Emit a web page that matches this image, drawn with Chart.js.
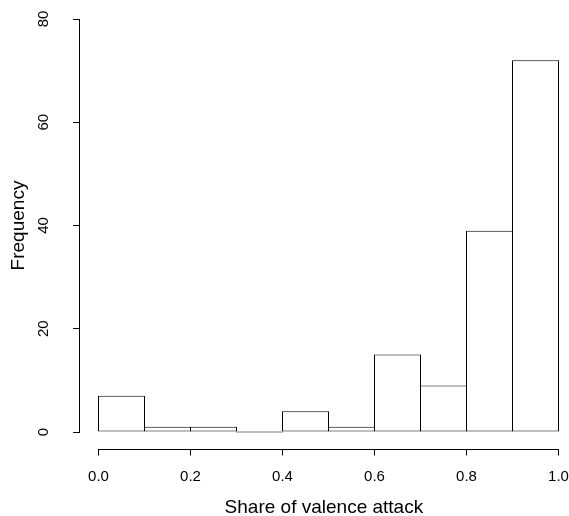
<!DOCTYPE html>
<html lang="en">
<head>
  <meta charset="UTF-8" />
  <title>Share of valence attack</title>
  <script src="https://cdn.jsdelivr.net/npm/chart.js"></script>
  <style>
    body {
      margin: 0;
      padding: 0;
      background: #fff;
    }
    canvas {
      display: block;
    }
  </style>
</head>
<body>
  <canvas id="hist" width="569" height="516"></canvas>
  <script>
    // histogram bins (share of valence attack) and counts
    const binStarts = [0.0, 0.1, 0.2, 0.3, 0.4, 0.5, 0.6, 0.7, 0.8, 0.9];
    const binEnds   = [0.1, 0.2, 0.3, 0.4, 0.5, 0.6, 0.7, 0.8, 0.9, 1.0];
    const counts    = [7, 1, 1, 0, 4, 1, 15, 9, 39, 72];

    const xTickValues = [0, 0.2, 0.4, 0.6, 0.8, 1.0];
    const xTickLabels = ['0.0', '0.2', '0.4', '0.6', '0.8', '1.0'];
    const yTickValues = [0, 20, 40, 60, 80];
    const yTickLabels = ['0', '20', '40', '60', '80'];

    const family = "'Liberation Sans', Arial, sans-serif";
    const tickFont = { family: family, size: 15 };

    const points = binStarts.map((s, i) => ({ x: (s + binEnds[i]) / 2, y: counts[i] }));

    // R style axes: line only from first to last tick
    const rAxes = {
      id: 'rAxes',
      afterDraw(chart) {
        const ctx = chart.ctx;
        const xs = chart.scales.x, ys = chart.scales.y;
        const xa = xs.getPixelForValue(xTickValues[0]);
        const xb = xs.getPixelForValue(xTickValues[xTickValues.length - 1]);
        const ya = ys.getPixelForValue(yTickValues[0]);
        const yb = ys.getPixelForValue(yTickValues[yTickValues.length - 1]);
        const ax = Math.round(ys.right) - 0.5;
        const ay = Math.round(xs.top) + 0.5;
        ctx.save();
        ctx.strokeStyle = '#000';
        ctx.lineWidth = 1;
        ctx.beginPath();
        ctx.moveTo(xa, ay);
        ctx.lineTo(xb, ay);
        ctx.moveTo(ax, ya);
        ctx.lineTo(ax, yb);
        ctx.stroke();
        ctx.restore();
      }
    };

    new Chart(document.getElementById('hist'), {
      type: 'bar',
      data: {
        datasets: [{
          data: points,
          backgroundColor: '#fff',
          borderColor: '#000',
          borderWidth: 1,
          borderSkipped: false,
          inflateAmount: 0,
          minBarLength: 1,
          barPercentage: 47 / 46,
          categoryPercentage: 1
        }]
      },
      options: {
        responsive: false,
        animation: false,
        events: [],
        layout: { autoPadding: false, padding: { left: 0, right: 1.3, top: 2.48, bottom: 0 } },
        plugins: {
          legend: { display: false },
          tooltip: { enabled: false }
        },
        scales: {
          x: {
            type: 'linear',
            min: -0.04,
            max: 1.02,
            offset: false,
            afterBuildTicks: s => { s.ticks = xTickValues.map(v => ({ value: v })); },
            afterFit: s => { s.height = 67.48; s.paddingLeft = 0; s.paddingRight = 0; },
            border: { display: false },
            grid: { drawOnChartArea: false, drawTicks: true, tickLength: 7, color: '#000', offset: false },
            ticks: {
              color: '#000',
              font: tickFont,
              padding: 12,
              autoSkip: false,
              maxRotation: 0,
              callback: (v, i) => xTickLabels[i]
            },
            title: {
              display: true,
              text: 'Share of valence attack',
              color: '#000',
              font: { family: family, size: 19, lineHeight: 0.9 },
              padding: { top: 0, bottom: 0 }
            }
          },
          y: {
            min: -3.2,
            max: 83.2,
            afterBuildTicks: s => { s.ticks = yTickValues.map(v => ({ value: v })); },
            afterFit: s => { s.width = 80.1; s.paddingTop = 0; s.paddingBottom = 0; },
            border: { display: false },
            grid: { drawOnChartArea: false, drawTicks: true, tickLength: 7, color: '#000' },
            ticks: {
              color: '#000',
              font: tickFont,
              padding: 21.3,
              minRotation: 90,
              maxRotation: 90,
              crossAlign: 'center',
              autoSkip: false,
              callback: (v, i) => yTickLabels[i]
            },
            title: {
              display: true,
              text: 'Frequency',
              color: '#000',
              font: { family: family, size: 19, lineHeight: 1 },
              padding: { top: 9.2, bottom: 0 }
            }
          }
        }
      },
      plugins: [rAxes]
    });
  </script>
</body>
</html>
